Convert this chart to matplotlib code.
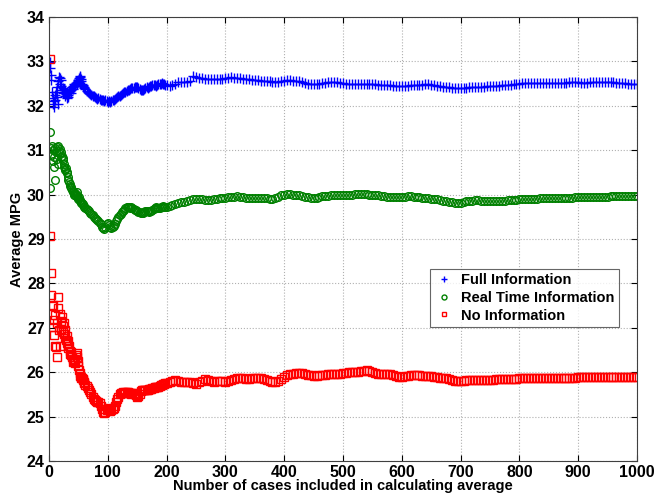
import numpy as np
import matplotlib

matplotlib.use("Agg")
import matplotlib.pyplot as plt  # noqa: E402

plt.rcParams["font.family"] = ["Liberation Sans", "DejaVu Sans"]
plt.rcParams["font.weight"] = "bold"
plt.rcParams["axes.labelweight"] = "bold"

# case numbers: every case early on, then every 2nd, then every 5th
cases = np.concatenate([np.arange(1, 61), np.arange(62, 201, 2), np.arange(205, 1001, 5)])

x_ticks = [0, 100, 200, 300, 400, 500, 600, 700, 800, 900, 1000]
y_ticks = [24, 25, 26, 27, 28, 29, 30, 31, 32, 33, 34]

full_info = [
    # 1-60
    32.98, 32.85, 32.70, 32.58, 32.31, 32.18, 32.05, 31.97, 32.10, 32.25,
    32.12, 32.30, 32.42, 32.20, 32.05, 32.55, 32.65, 32.62, 32.50, 32.58,
    32.45, 32.35, 32.40, 32.28, 32.38, 32.30, 32.22, 32.35, 32.27, 32.18,
    32.32, 32.25, 32.20, 32.30, 32.38, 32.33, 32.28, 32.35, 32.42, 32.38,
    32.45, 32.48, 32.44, 32.50, 32.47, 32.52, 32.50, 32.48, 32.53, 32.58,
    32.62, 32.67, 32.64, 32.60, 32.55, 32.50, 32.47, 32.44, 32.42, 32.40,
    # 62-200
    32.37, 32.33, 32.30, 32.28, 32.26, 32.24, 32.22, 32.21, 32.20, 32.18,
    32.16, 32.17, 32.15, 32.13, 32.14, 32.12, 32.10, 32.12, 32.11, 32.09,
    32.10, 32.08, 32.10, 32.12, 32.14, 32.15, 32.17, 32.19, 32.21, 32.23,
    32.25, 32.27, 32.29, 32.31, 32.32, 32.33, 32.35, 32.36, 32.37, 32.39,
    32.40, 32.41, 32.42, 32.43, 32.42, 32.40, 32.38, 32.36, 32.36, 32.35,
    32.37, 32.40, 32.42, 32.41, 32.42, 32.44, 32.45, 32.46, 32.47, 32.46,
    32.45, 32.46, 32.48, 32.49, 32.50, 32.51, 32.50, 32.49, 32.47, 32.46,
    # 205-1000
    32.44, 32.47, 32.50, 32.53, 32.54, 32.53, 32.54, 32.56, 32.66, 32.64,
    32.62, 32.63, 32.61, 32.60, 32.61, 32.60, 32.61, 32.60, 32.61, 32.62,
    32.63, 32.64, 32.63, 32.62, 32.62, 32.61, 32.60, 32.60, 32.59, 32.58,
    32.57, 32.56, 32.56, 32.55, 32.55, 32.54, 32.53, 32.54, 32.55, 32.56,
    32.57, 32.57, 32.56, 32.56, 32.55, 32.53, 32.51, 32.49, 32.48, 32.48,
    32.49, 32.50, 32.51, 32.52, 32.53, 32.54, 32.54, 32.53, 32.52, 32.51,
    32.50, 32.50, 32.50, 32.50, 32.50, 32.49, 32.49, 32.49, 32.48, 32.48,
    32.48, 32.47, 32.47, 32.47, 32.46, 32.46, 32.45, 32.45, 32.44, 32.44,
    32.44, 32.45, 32.46, 32.46, 32.46, 32.46, 32.47, 32.48, 32.48, 32.47,
    32.46, 32.45, 32.44, 32.43, 32.42, 32.42, 32.41, 32.40, 32.40, 32.40,
    32.41, 32.41, 32.42, 32.42, 32.43, 32.43, 32.43, 32.43, 32.44, 32.44,
    32.44, 32.45, 32.45, 32.46, 32.46, 32.47, 32.47, 32.48, 32.49, 32.50,
    32.51, 32.51, 32.51, 32.51, 32.52, 32.52, 32.52, 32.52, 32.52, 32.52,
    32.52, 32.52, 32.52, 32.52, 32.52, 32.52, 32.53, 32.53, 32.53, 32.53,
    32.52, 32.52, 32.52, 32.53, 32.53, 32.53, 32.53, 32.54, 32.54, 32.53,
    32.53, 32.53, 32.52, 32.52, 32.51, 32.51, 32.50, 32.50, 32.50, 32.50,
]

real_time_info = [
    # 1-60
    30.15, 31.41, 31.05, 30.90, 31.10, 30.75, 31.00, 30.62, 30.85, 31.05,
    30.33, 30.95, 31.08, 30.80, 30.70, 31.10, 30.98, 31.02, 30.92, 30.85,
    30.95, 30.88, 30.78, 30.82, 30.68, 30.62, 30.58, 30.55, 30.60, 30.52,
    30.48, 30.40, 30.32, 30.28, 30.25, 30.20, 30.15, 30.18, 30.10, 30.06,
    30.08, 30.02, 30.00, 30.03, 29.98, 29.96, 30.05, 30.00, 29.93, 29.90,
    29.95, 29.88, 29.86, 29.84, 29.82, 29.80, 29.78, 29.76, 29.74, 29.72,
    # 62-200
    29.70, 29.68, 29.65, 29.62, 29.59, 29.56, 29.53, 29.50, 29.48, 29.45,
    29.42, 29.40, 29.37, 29.33, 29.28, 29.25, 29.22, 29.26, 29.33, 29.36,
    29.32, 29.28, 29.25, 29.26, 29.30, 29.34, 29.40, 29.45, 29.49, 29.53,
    29.57, 29.60, 29.62, 29.66, 29.69, 29.71, 29.72, 29.71, 29.70, 29.71,
    29.70, 29.68, 29.66, 29.65, 29.63, 29.61, 29.60, 29.59, 29.58, 29.59,
    29.61, 29.63, 29.63, 29.62, 29.61, 29.62, 29.64, 29.66, 29.68, 29.70,
    29.71, 29.70, 29.69, 29.70, 29.72, 29.73, 29.74, 29.73, 29.72, 29.73,
    # 205-1000
    29.75, 29.77, 29.79, 29.81, 29.83, 29.84, 29.86, 29.88, 29.90, 29.91,
    29.91, 29.89, 29.88, 29.87, 29.88, 29.90, 29.91, 29.92, 29.92, 29.93,
    29.94, 29.94, 29.95, 29.96, 29.95, 29.94, 29.93, 29.93, 29.92, 29.93,
    29.93, 29.93, 29.92, 29.92, 29.91, 29.90, 29.92, 29.95, 29.98, 30.00,
    30.01, 30.01, 30.00, 30.00, 29.99, 29.97, 29.95, 29.94, 29.93, 29.92,
    29.93, 29.94, 29.96, 29.97, 29.97, 29.98, 29.98, 29.99, 29.99, 29.99,
    30.00, 30.00, 30.00, 30.01, 30.01, 30.02, 30.01, 30.01, 30.00, 30.00,
    29.99, 29.98, 29.97, 29.96, 29.95, 29.95, 29.94, 29.94, 29.94, 29.95,
    29.95, 29.96, 29.96, 29.95, 29.95, 29.94, 29.93, 29.93, 29.92, 29.91,
    29.90, 29.89, 29.88, 29.86, 29.85, 29.84, 29.83, 29.82, 29.81, 29.82,
    29.84, 29.85, 29.86, 29.86, 29.87, 29.87, 29.86, 29.86, 29.86, 29.86,
    29.85, 29.85, 29.85, 29.86, 29.86, 29.87, 29.87, 29.88, 29.88, 29.89,
    29.89, 29.90, 29.90, 29.90, 29.91, 29.91, 29.92, 29.92, 29.92, 29.92,
    29.92, 29.93, 29.93, 29.93, 29.93, 29.93, 29.93, 29.93, 29.94, 29.94,
    29.94, 29.94, 29.94, 29.94, 29.95, 29.95, 29.95, 29.95, 29.95, 29.95,
    29.96, 29.96, 29.96, 29.96, 29.96, 29.96, 29.96, 29.96, 29.96, 29.96,
]

no_info = [
    # 1-60
    33.05, 29.07, 28.23, 27.74, 27.50, 27.02, 27.51, 27.18, 26.84, 26.60,
    27.29, 26.57, 26.35, 27.10, 27.70, 27.45, 26.95, 26.60, 27.30, 27.15,
    26.98, 27.25, 27.05, 26.90, 27.10, 26.85, 26.95, 26.78, 26.72, 26.82,
    26.65, 26.70, 26.55, 26.60, 26.48, 26.42, 26.38, 26.45, 26.35, 26.30,
    26.22, 26.28, 26.25, 26.20, 26.30, 26.38, 26.43, 26.35, 26.25, 26.15,
    26.05, 25.98, 25.92, 25.90, 25.88, 25.86, 25.84, 25.82, 25.78, 25.75,
    # 62-200
    25.72, 25.68, 25.64, 25.60, 25.55, 25.50, 25.44, 25.40, 25.38, 25.35,
    25.34, 25.32, 25.30, 25.25, 25.18, 25.10, 25.07, 25.10, 25.15, 25.19,
    25.16, 25.12, 25.15, 25.18, 25.20, 25.24, 25.32, 25.40, 25.45, 25.50,
    25.53, 25.54, 25.55, 25.54, 25.55, 25.56, 25.55, 25.54, 25.53, 25.52,
    25.53, 25.54, 25.52, 25.48, 25.45, 25.46, 25.52, 25.58, 25.60, 25.61,
    25.60, 25.60, 25.61, 25.61, 25.62, 25.62, 25.63, 25.64, 25.65, 25.66,
    25.67, 25.66, 25.67, 25.69, 25.71, 25.72, 25.73, 25.74, 25.75, 25.76,
    # 205-1000
    25.78, 25.81, 25.82, 25.80, 25.78, 25.77, 25.78, 25.78, 25.76, 25.74,
    25.77, 25.81, 25.84, 25.82, 25.80, 25.79, 25.80, 25.81, 25.80, 25.79,
    25.80, 25.82, 25.84, 25.86, 25.87, 25.86, 25.85, 25.85, 25.86, 25.87,
    25.87, 25.86, 25.85, 25.83, 25.81, 25.79, 25.78, 25.80, 25.85, 25.90,
    25.94, 25.96, 25.97, 25.98, 25.99, 25.98, 25.96, 25.94, 25.93, 25.92,
    25.92, 25.93, 25.93, 25.94, 25.95, 25.96, 25.97, 25.97, 25.97, 25.98,
    25.99, 26.00, 26.00, 26.00, 26.01, 26.02, 26.03, 26.04, 26.03, 26.01,
    25.99, 25.97, 25.96, 25.96, 25.97, 25.96, 25.94, 25.92, 25.90, 25.90,
    25.91, 25.92, 25.93, 25.93, 25.93, 25.93, 25.92, 25.92, 25.91, 25.91,
    25.90, 25.89, 25.88, 25.87, 25.86, 25.84, 25.82, 25.81, 25.80, 25.80,
    25.81, 25.82, 25.82, 25.83, 25.83, 25.83, 25.82, 25.82, 25.82, 25.83,
    25.83, 25.84, 25.84, 25.85, 25.85, 25.85, 25.85, 25.85, 25.85, 25.86,
    25.86, 25.86, 25.86, 25.86, 25.86, 25.86, 25.87, 25.87, 25.87, 25.87,
    25.87, 25.88, 25.88, 25.88, 25.88, 25.88, 25.88, 25.88, 25.88, 25.89,
    25.89, 25.89, 25.89, 25.89, 25.89, 25.89, 25.89, 25.90, 25.90, 25.90,
    25.90, 25.90, 25.89, 25.89, 25.89, 25.89, 25.89, 25.89, 25.89, 25.89,
]

series = [
    ("Full Information", full_info, "+", "#0000ff", 7.0),
    ("Real Time Information", real_time_info, "o", "#008000", 5.5),
    ("No Information", no_info, "s", "#ff0000", 5.5),
]

fig = plt.figure(figsize=(6.54, 4.94), dpi=100)
ax = fig.add_axes([49 / 654, 33 / 494, 588 / 654, 444 / 494])

for name, vals, mk, col, ms in series:
    ax.plot(cases, vals, linestyle="none", marker=mk, markersize=ms, color=col,
            markerfacecolor="none", markeredgecolor=col, markeredgewidth=1.0,
            label=name)

ax.set_xlim(0, 1000)
ax.set_ylim(24, 34)
ax.set_xticks(x_ticks, labels=[str(t) for t in x_ticks], fontsize=11.5, fontweight="bold")
ax.set_yticks(y_ticks, labels=[str(t) for t in y_ticks], fontsize=11.5, fontweight="bold")
ax.grid(True, linestyle=":", color="#b0b0b0", linewidth=0.8)
ax.tick_params(direction="in", top=True, right=True, length=4, pad=3)
for sp in ax.spines.values():
    sp.set_color("#404040")
    sp.set_linewidth(0.8)

ax.set_xlabel("Number of cases included in calculating average", fontsize=10.5,
              fontweight="bold", labelpad=-1)
ax.set_ylabel("Average MPG", fontsize=10.5, fontweight="bold", labelpad=2)

leg = ax.legend(loc="lower right", bbox_to_anchor=(0.969, 0.302),
                prop={"size": 10.5, "weight": "bold"}, markerscale=0.65,
                frameon=True, fancybox=False, edgecolor="#404040", borderpad=0.3,
                handlelength=1.2, handletextpad=0.6, labelspacing=0.25, borderaxespad=0)
leg.get_frame().set_linewidth(0.8)

fig.savefig("out.png", dpi=100)
